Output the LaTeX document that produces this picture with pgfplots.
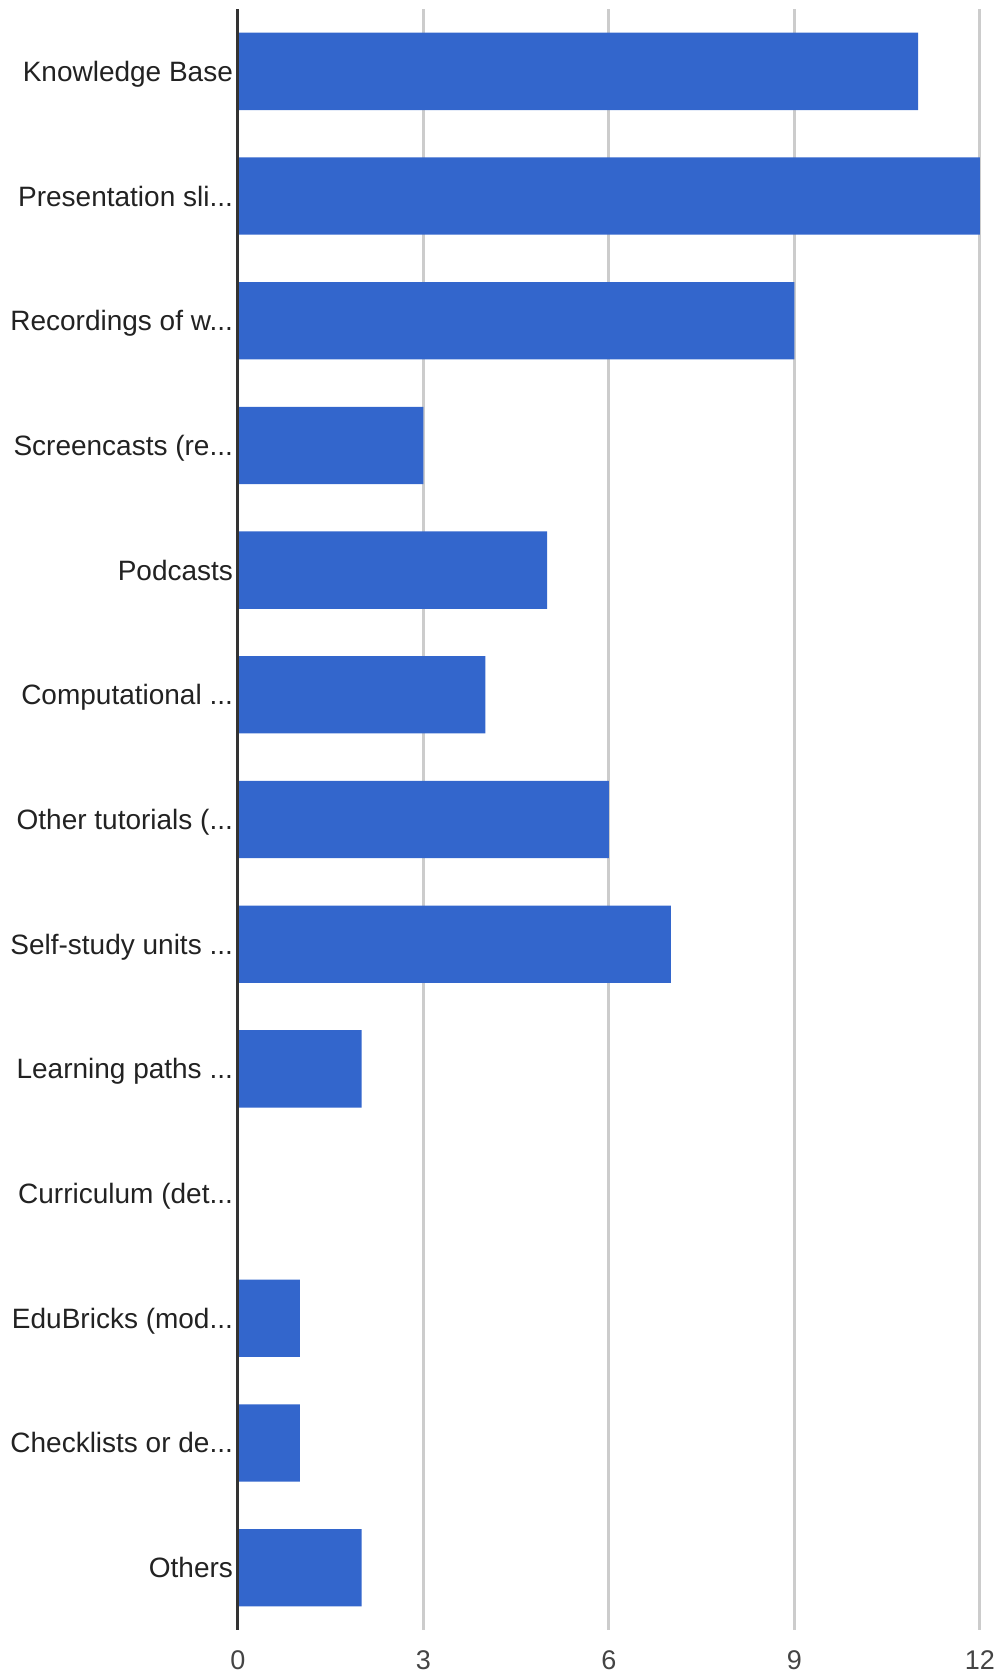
\documentclass[border=0pt]{standalone}
\usepackage{pgfplots}
\pgfplotsset{compat=1.18}
\usepackage{fontspec}
\setmainfont{Liberation Sans}
\definecolor{barblue}{HTML}{3366CC}
\definecolor{gridgray}{HTML}{CCCCCC}
\definecolor{axisdark}{HTML}{333333}
\definecolor{txt}{HTML}{222222}
\definecolor{ticktxt}{HTML}{444444}
\newcommand{\el}{.{}.{}.}
\begin{document}
\begin{tikzpicture}
\begin{axis}[
  at={(0,0)}, anchor=south west,
  scale only axis,
  width=371pt, height=810.5pt,
  xbar, y dir=reverse,
  xmin=0, xmax=12, ymin=-0.5, ymax=12.5,
  xtick={0,3,6,9,12},
  ytick={0,1,2,3,4,5,6,7,8,9,10,11,12},
  yticklabels={{Knowledge Base},{Presentation sli\el},{Recordings of w\el},{Screencasts (re\el},{Podcasts},{Computational \el},{Other tutorials (\el},{Self-study units \el},{Learning paths \el},{Curriculum (det\el},{EduBricks (mod\el},{Checklists or de\el},{Others}},
  bar width=0.62,
  axis line style={draw=none},
  major tick length=0pt,
  xmajorgrids, grid style={gridgray, line width=1.5pt},
  yticklabel style={font=\fontsize{14}{16}\selectfont, text=txt, anchor=base east, xshift=1pt, yshift=-5pt},
  xticklabel style={font=\fontsize{13.5}{16}\selectfont, text=ticktxt, yshift=-7pt},
  /pgf/number format/assume math mode=true,
  clip=false,
]
\addplot[fill=barblue, draw=none] coordinates {
(11,0) (12,1) (9,2) (3,3) (5,4) (4,5) (6,6) (7,7) (2,8) (0,9) (1,10) (1,11) (2,12)};
\draw[axisdark, line width=1.5pt] (axis cs:0,-0.5) -- (axis cs:0,12.5);
\end{axis}
\pgfresetboundingbox
\path (-119pt,-24pt) rectangle (381pt,815pt);
\end{tikzpicture}
\end{document}
